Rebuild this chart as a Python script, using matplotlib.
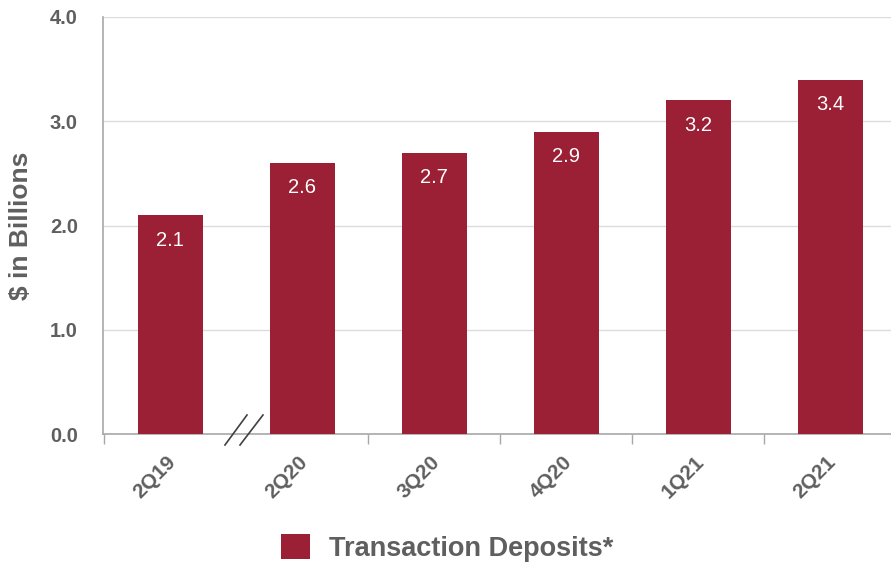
import matplotlib
matplotlib.use("Agg")
import matplotlib.pyplot as plt
from matplotlib.patches import Patch
from matplotlib.lines import Line2D
from matplotlib import transforms

# Transaction deposits by quarter ($ billions)
quarters = ["2Q19", "2Q20", "3Q20", "4Q20", "1Q21", "2Q21"]
deposits = [2.1, 2.6, 2.7, 2.9, 3.2, 3.4]
y_ticks = [0.0, 1.0, 2.0, 3.0, 4.0]

BAR = "#9B1F35"
GREY = "#5F5F5F"
plt.rcParams["font.family"] = ["Liberation Sans", "DejaVu Sans"]

fig = plt.figure(figsize=(8.91, 5.67), dpi=100)
ax = fig.add_axes([103 / 891, 133 / 567, 1 - 103 / 891, 417 / 567])

x = list(range(len(quarters)))
ax.bar(x, deposits, width=0.49, color=BAR, zorder=3)

for xi, v in zip(x, deposits):
    ax.annotate(f"{v:.1f}", xy=(xi, v), xytext=(0, -18), textcoords="offset points",
                ha="center", va="center", color="white", fontsize=14.5, zorder=4)

ax.set_xlim(-0.51, 5.46)
ax.set_ylim(0, 4.0)
ax.set_yticks(y_ticks)
ax.set_yticklabels([f"{t:.1f}" for t in y_ticks], fontsize=14.5, fontweight="bold", color=GREY)
ax.tick_params(axis="y", length=0, pad=18)

ax.set_xticks(x)
ax.set_xticklabels(quarters, rotation=45, ha="right", rotation_mode="anchor",
                   fontsize=15, fontweight="bold", color=GREY)
ax.tick_params(axis="x", which="major", length=0, pad=13)
shift = transforms.ScaledTranslation(-4 / 100, 0, fig.dpi_scale_trans)
for lbl in ax.get_xticklabels():
    lbl.set_transform(lbl.get_transform() + shift)
ax.set_xticks([-0.5, 1.5, 2.5, 3.5, 4.5], minor=True)
ax.tick_params(axis="x", which="minor", length=7, width=1, color="#A8A8A8", direction="out")

ax.grid(axis="y", color="#DCDCDC", linewidth=1, zorder=0)
for side in ("top", "right"):
    ax.spines[side].set_visible(False)
for side in ("left", "bottom"):
    ax.spines[side].set_color("#A8A8A8")
    ax.spines[side].set_linewidth(1.2)

ax.set_ylabel("$ in Billions", fontsize=19, fontweight="bold", color=GREY)
ax.yaxis.set_label_coords(-70 / 788, 0.5)

# axis break marker between 2Q19 and 2Q20
blend = transforms.blended_transform_factory(ax.transData, ax.transAxes)
for xs in ([0.414, 0.581], [0.528, 0.702]):
    ax.add_line(Line2D(xs, [-0.0264, 0.0456], transform=blend, color="#404040", lw=1.2,
                       clip_on=False, zorder=5))

fig.legend(handles=[Patch(facecolor=BAR, label="Transaction Deposits*")],
           loc="center", bbox_to_anchor=(447 / 891, 19 / 567), frameon=False,
           prop={"size": 19.5, "weight": "bold"}, handlelength=1.05, handleheight=1.05,
           handletextpad=0.7, labelcolor=GREY)

fig.savefig("out.png", dpi=100)
